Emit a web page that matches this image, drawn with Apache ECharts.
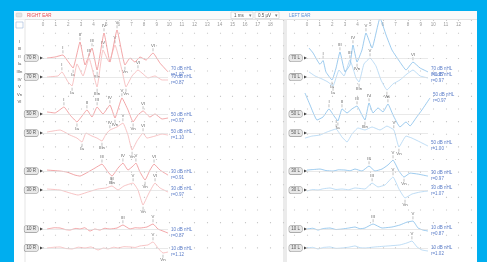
<!DOCTYPE html>
<html>
<head>
<meta charset="utf-8">
<script src="https://cdn.jsdelivr.net/npm/echarts@6/dist/echarts.min.js"></script>
<style>
  html, body { margin: 0; padding: 0; background: #00aeef; overflow: hidden; }
  #panel { position: absolute; left: 14px; top: 11px; width: 463px; height: 251px; background: #fff; }
  #main { position: absolute; left: 0; top: 0; width: 487px; height: 262px; }
</style>
</head>
<body>
<div id="panel"></div>
<div id="main"></div>
<script>
// trace baselines, in grid divisions (0 = top of plot)
var levels = [-3.01, -4.51, -7.44, -8.95, -11.96, -13.46, -16.55, -18.05];

// intensity boxes and end labels
var rightBoxes = ['70 R', '70 R', '50 R', '50 R', '30 R', '30 R', '10 R', '10 R'];
var leftBoxes = ['70 L', '70 L', '50 L', '50 L', '30 L', '30 L', '10 L', '10 L'];
var dbText = ['70 dB nHL', '70 dB nHL', '50 dB nHL', '50 dB nHL', '30 dB nHL', '30 dB nHL', '10 dB nHL', '10 dB nHL'];
var rightStat = ['r=1.07', 'r=0.87', 'r=0.97', 'r=1.10', 'r=0.91', 'r=0.97', 'r=0.87', 'r=1.12'];
var leftStat = ['r=1.07', 'r=0.97', 'r=0.97', 'r=1.00', 'r=0.97', 'r=1.07', 'r=0.87', 'r=1.02'];

// peak name column at left
var markerNames = ['I', 'III', 'II', 'Ia', 'IIIn', 'IV', 'V', 'Vn', 'VI'];

// waveforms: [ms, divisions above baseline]
var rightTraces = [
  [[0.32,0],[0.95,0.08],[1.58,0.24],[1.9,-0.16],[2.38,-0.79],[2.93,1.27],[3.33,-0.55],[3.88,0.79],[4.28,-0.95],[4.83,1.98],[5.3,-0.32],[5.86,2.22],[6.49,-0.55],[6.89,0],[7.28,-0.32],[7.68,0.08],[8.16,-0.16],[8.71,0.4],[9.26,-0.4],[9.9,-1.1]],
  [[0.32,0],[1.19,0.08],[1.5,0.4],[1.98,-0.4],[2.3,-0.71],[2.69,1.03],[3.17,0.08],[3.64,1.5],[4.28,-0.79],[4.75,2.14],[5.23,1.19],[5.7,2.53],[6.25,0.55],[6.57,-0.79],[7.05,0.08],[7.52,0.55],[7.92,0.24],[8.31,-0.08],[8.87,0.08],[9.42,-0.24],[9.9,-0.24]],
  [[0.32,0.16],[0.95,0.08],[1.66,0.55],[2.14,-0.08],[2.69,-0.63],[3.09,-0.16],[3.48,0.32],[3.88,-0.24],[4.28,0.55],[4.75,0],[5.3,0.71],[5.7,-0.32],[6.25,1.27],[6.73,0.32],[7.13,-0.63],[7.52,-0.08],[7.92,0.24],[8.47,-0.24],[8.87,0],[9.42,-0.4],[9.9,-0.32]],
  [[0.32,0.08],[1.35,0.24],[2.14,-0.16],[2.69,-0.4],[3.09,-0.71],[3.4,0],[3.88,-0.24],[4.28,-0.4],[4.67,-0.63],[4.99,-0.08],[5.3,0.24],[5.86,0.48],[6.33,0.79],[6.73,-0.16],[7.05,-1.35],[7.44,-0.63],[7.92,0],[8.23,-0.4],[8.87,-0.24],[9.42,-0.08],[9.9,-0.16]],
  [[0.32,0.08],[1.35,0],[1.9,-0.08],[2.53,-0.32],[2.93,-0.4],[3.56,-0.08],[4.12,0.24],[4.67,0.55],[5.15,-0.08],[5.46,-0.4],[5.94,0.24],[6.33,0.63],[6.73,0.08],[7.13,0.4],[7.36,0.63],[7.68,-0.08],[8.08,-0.71],[8.47,0.08],[8.79,0.55],[9.26,0.08],[9.9,-0.32]],
  [[0.32,0.08],[1.35,0],[2.14,-0.24],[2.77,-0.4],[3.56,-0.16],[4.36,0.08],[4.99,0.16],[5.46,0.32],[5.94,0],[6.41,0.32],[7.13,0.55],[7.52,0],[7.92,-1.19],[8.31,-0.4],[8.87,0.55],[9.26,0.16],[9.9,-0.16]],
  [[0.32,0],[0.9,0.1],[1.35,0.08],[1.8,-0.05],[2.14,-0.08],[2.6,0.05],[2.93,0],[3.3,0.1],[3.72,-0.16],[4.1,0],[4.51,-0.08],[4.9,0.06],[5.3,0],[5.86,0.08],[6.33,0.32],[6.89,0],[7.3,0.1],[7.68,0.08],[8.23,0.16],[8.71,0.4],[9.1,0],[9.5,-0.16],[9.9,-0.32]],
  [[0.32,0],[0.9,0.06],[1.35,0.08],[1.8,-0.04],[2.3,-0.08],[2.8,0.06],[3.33,0],[3.8,0.08],[4.36,-0.16],[4.8,0],[5.15,-0.08],[5.6,0.06],[5.94,0],[6.4,0.1],[6.89,0.08],[7.3,0.04],[7.68,0.16],[8.31,0.24],[8.71,0.48],[9.1,0],[9.5,-0.4],[9.9,-0.32]]
];

var leftTraces = [
  [[0.16,0.79],[0.48,0.4],[1.03,-0.5],[1.27,-0.2],[1.5,-1.1],[1.98,-1.74],[2.3,-0.79],[2.61,0.48],[3.01,-1.1],[3.4,-0.55],[3.64,1.03],[3.96,-0.32],[4.35,0.63],[4.67,1.98],[5.15,0.79],[5.78,3.17],[6.26,1.82],[6.73,0.63],[7.36,-0.32],[7.84,-0.95],[8.39,-0.32],[8.95,-0.79],[9.58,-1.1]],
  [[0.16,0.4],[0.63,0.08],[1.19,-0.16],[1.66,-0.4],[2.06,-0.71],[2.53,0.55],[2.93,0.08],[3.4,1.35],[3.88,-0.08],[4.12,-0.4],[4.51,1.03],[4.99,1.5],[5.46,0.87],[5.86,-0.24],[6.33,-1.03],[6.81,-0.55],[7.36,-0.24],[7.92,0.24],[8.39,0.55],[8.95,0.08],[9.58,-0.08]],
  [[-0.16,1.66],[0.24,0.71],[0.79,-0.48],[1.27,-0.24],[1.74,0.4],[2.14,-0.16],[2.45,-0.55],[2.77,0.4],[3.17,0.08],[3.56,0.4],[3.96,0.63],[4.35,-0.08],[4.59,-0.48],[4.91,0.87],[5.23,0.08],[5.62,0.48],[6.02,0.16],[6.41,0.79],[6.81,-0.08],[7.36,-1.03],[7.84,-0.63],[8.16,-0.95],[8.63,-0.32],[9.1,0.32],[9.74,1.27]],
  [[-0.16,-0.4],[0.4,-0.24],[1.03,-0.16],[1.58,0.08],[2.3,0.32],[2.77,-0.32],[3.17,-0.71],[3.56,-0.08],[4.04,0.4],[4.59,0.24],[5.15,0.48],[5.78,0.24],[6.33,0.55],[6.88,0.24],[7.28,-1.11],[7.84,-0.24],[8.31,-0.4],[8.95,-0.71],[9.58,-1.03]],
  [[0,0.08],[0.5,0.12],[1.03,0.16],[1.5,0.04],[2.06,0],[2.5,0.1],[3.01,0.08],[3.4,0.02],[3.8,0.16],[4.35,0],[4.91,0.4],[5.38,0],[5.94,0.16],[6.41,0.48],[6.81,0.87],[7.28,0],[7.68,-0.48],[8.16,-0.16],[8.79,-0.24],[9.58,-0.4]],
  [[0,-0.08],[0.45,0.04],[0.87,0],[1.3,0.1],[1.82,0.16],[2.3,0.04],[2.77,0.08],[3.3,0.02],[3.8,0.16],[4.59,0.08],[5.15,0.55],[5.62,0.24],[6.18,0.4],[6.81,1.03],[7.28,0.08],[7.76,-0.63],[8.31,-0.32],[8.95,-0.16],[9.58,-0.08]],
  [[0,0],[0.45,0.06],[0.87,-0.08],[1.3,0.04],[1.82,0.08],[2.3,-0.04],[2.77,0],[3.3,0.08],[3.8,0.16],[4.2,0.02],[4.59,0.08],[5.23,0.4],[5.94,0.08],[6.73,0.16],[7.36,0.32],[7.92,0.55],[8.39,0.63],[8.79,0.08],[9.18,-0.08],[9.58,-0.16]],
  [[0,0],[0.45,0.05],[0.87,-0.08],[1.3,0.04],[1.82,0.08],[2.3,-0.03],[2.77,0],[3.3,0.06],[3.8,0.16],[4.2,0.02],[4.59,0],[5.38,0.08],[6.41,0.16],[7.36,0.24],[7.92,0.4],[8.31,0.55],[8.71,0.08],[9.1,-0.16],[9.58,-0.24]]
];

// peak marks: [trace, ms, name, below]
var rightPeaks = [
  [0,1.58,'I',0],[0,2.38,'Ia',1],[0,2.93,'II',0],[0,3.88,'III',0],[0,4.28,'IIIn',1],[0,4.83,'IV',0],[0,5.86,'V',0],[0,6.49,'Vn',1],[0,8.71,'VI',0],
  [1,1.5,'I',0],[1,2.3,'Ia',1],[1,3.64,'III',0],[1,4.28,'IIIn',1],[1,4.75,'IV',0],[1,5.7,'V',0],[1,6.57,'Vn',1],[1,7.52,'VI',0],
  [2,1.66,'I',0],[2,2.69,'Ia',1],[2,3.48,'II',0],[2,4.28,'III',0],[2,5.3,'IV',0],[2,5.7,'IVn',1],[2,6.25,'V',0],[2,7.13,'Vn',1],[2,7.92,'VI',0],
  [3,3.09,'Ia',1],[3,4.67,'IIIn',1],[3,5.3,'IV',0],[3,6.33,'V',0],[3,7.05,'Vn',1],[3,7.92,'VI',0],
  [4,4.67,'III',0],[4,5.46,'IIIn',1],[4,6.33,'IV',0],[4,7.36,'V',0],[4,8.08,'Vn',1],[4,8.79,'VI',0],
  [5,5.46,'III',0],[5,7.13,'V',0],[5,7.92,'Vn',1],[5,8.87,'VI',0],
  [6,6.33,'III',0],[6,8.71,'V',0],
  [7,8.71,'V',0],[7,9.5,'Vn',1]
];
var leftPeaks = [
  [0,1.27,'I',0],[0,1.98,'Ia',1],[0,2.61,'III',0],[0,3.64,'IV',0],[0,3.96,'IVn',1],[0,4.67,'V',0],[0,8.39,'VI',0],
  [1,2.06,'Ia',1],[1,3.4,'III',0],[1,4.12,'IIIn',1],[1,4.99,'V',0],[1,6.33,'Vn',1],
  [2,1.74,'I',0],[2,2.45,'Ia',1],[2,2.77,'II',0],[2,3.96,'III',0],[2,4.59,'IIIn',1],[2,4.91,'IV',0],[2,6.41,'V',0],
  [3,2.3,'I',0],[3,6.88,'V',0],[3,7.28,'Vn',1],
  [4,4.91,'III',0],[4,6.81,'V',0],[4,7.68,'Vn',1],
  [5,5.15,'III',0],[5,6.81,'V',0],[5,7.76,'Vn',1],
  [6,5.23,'III',0],[6,8.39,'V',0],
  [7,8.31,'V',0]
];

var FONT = 'Liberation Sans';

function interp(trace, t) {
  for (var i = 1; i < trace.length; i++) {
    if (trace[i][0] >= t) {
      var a = trace[i - 1], b = trace[i];
      var k = (t - a[0]) / (b[0] - a[0]);
      return a[1] + k * (b[1] - a[1]);
    }
  }
  return trace[trace.length - 1][1];
}

function traceSeries(traces, grid, colors, boxes, stats) {
  return traces.map(function (tr, i) {
    var lvl = levels[i];
    var last = tr[tr.length - 1];
    return {
      type: 'line',
      xAxisIndex: grid, yAxisIndex: grid,
      data: tr.map(function (p) { return [p[0], p[1] + lvl]; }),
      showSymbol: false,
      smooth: 0.12,
      silent: true,
      lineStyle: { color: colors[i % 2], width: 0.7 },
      endLabel: {
        show: true,
        distance: 3,
        formatter: dbText[i] + '\n' + stats[i],
        color: '#5a7cc8',
        fontSize: 4.5,
        lineHeight: 6,
        fontFamily: FONT,
        align: 'left'
      },
      markLine: {
        silent: true,
        symbol: ['none', 'none'],
        label: { show: false },
        lineStyle: { color: '#dadada', width: 0.6, type: 'solid' },
        data: [[{ coord: [0, lvl] }, { coord: [last[0], lvl] }]]
      },
      markPoint: {
        silent: true,
        symbol: 'triangle',
        symbolRotate: -90,
        symbolSize: 3,
        symbolOffset: [-1.5, 0],
        itemStyle: { color: '#444' },
        label: {
          show: true,
          position: 'left',
          distance: 2,
          formatter: boxes[i],
          fontSize: 4.5,
          fontFamily: FONT,
          color: '#555',
          backgroundColor: '#e8e8e8',
          borderColor: '#999',
          borderWidth: 0.6,
          borderRadius: 2,
          padding: [1, 2, 0.5, 2]
        },
        data: [{ coord: [0, lvl] }]
      }
    };
  });
}

function peakSeries(peaks, traces, grid) {
  return {
    type: 'scatter',
    xAxisIndex: grid, yAxisIndex: grid,
    silent: true,
    symbol: 'rect',
    symbolSize: [0.5, 3],
    itemStyle: { color: '#666' },
    label: { show: true, fontSize: 4.3, fontFamily: FONT, color: '#333', distance: 0.5 },
    data: peaks.map(function (p) {
      var below = p[3] === 1;
      return {
        value: [p[1], interp(traces[p[0]], p[1]) + levels[p[0]]],
        name: p[2],
        symbolOffset: [0, below ? 3.2 : -3.2],
        label: { position: below ? 'bottom' : 'top', formatter: p[2] }
      };
    })
  };
}

var DIV = 12.63;

function xAxisFor(grid, min, max) {
  return {
    gridIndex: grid, type: 'value', position: 'top',
    min: min, max: max, interval: 1,
    axisLine: { show: false }, axisTick: { show: false },
    axisLabel: {
      inside: true, margin: 2, fontSize: 4.5, color: '#999', fontFamily: FONT,
      showMinLabel: min === 0, showMaxLabel: false
    },
    splitLine: { show: true, lineStyle: { color: '#c8c8c8', width: 1.1, type: [1.1, DIV - 1.1] } }
  };
}
function yAxisFor(grid) {
  return {
    gridIndex: grid, type: 'value', min: -19, max: 0, interval: 1,
    axisLine: { show: false }, axisTick: { show: false }, axisLabel: { show: false },
    splitLine: { show: false }
  };
}

var graphics = [
  // header strip
  { type: 'rect', shape: { x: 14, y: 11, width: 463, height: 8.5 }, style: { fill: '#fafafa' } },
  { type: 'line', shape: { x1: 14, y1: 19.5, x2: 477, y2: 19.5 }, style: { stroke: '#dcdcdc', lineWidth: 0.8 } },
  { type: 'rect', shape: { x: 16, y: 13, width: 6, height: 4, r: 1 }, style: { fill: '#e4e4e4', stroke: '#bbb', lineWidth: 0.4 } },
  { type: 'text', x: 27, y: 15.3, style: { text: 'RIGHT EAR', fill: '#e8474e', fontSize: 4.5, fontFamily: FONT, verticalAlign: 'middle' } },
  { type: 'rect', shape: { x: 231, y: 12, width: 22, height: 6.5 }, style: { fill: '#fff', stroke: '#cfcfcf', lineWidth: 0.6 } },
  { type: 'text', x: 234, y: 15.3, style: { text: '1 ms', fill: '#555', fontSize: 4.5, fontFamily: FONT, verticalAlign: 'middle' } },
  { type: 'text', x: 249, y: 15.3, style: { text: '▾', fill: '#777', fontSize: 4.5, fontFamily: FONT, verticalAlign: 'middle' } },
  { type: 'rect', shape: { x: 255, y: 12, width: 24, height: 6.5 }, style: { fill: '#fff', stroke: '#cfcfcf', lineWidth: 0.6 } },
  { type: 'text', x: 258, y: 15.3, style: { text: '0.5 µV', fill: '#555', fontSize: 4.5, fontFamily: FONT, verticalAlign: 'middle' } },
  { type: 'text', x: 275, y: 15.3, style: { text: '▾', fill: '#777', fontSize: 4.5, fontFamily: FONT, verticalAlign: 'middle' } },
  { type: 'text', x: 289, y: 15.3, style: { text: 'LEFT EAR', fill: '#5b8fd6', fontSize: 4.5, fontFamily: FONT, verticalAlign: 'middle' } },
  // left name column
  { type: 'rect', shape: { x: 14, y: 19.5, width: 11, height: 243 }, style: { fill: '#fff' } },
  { type: 'line', shape: { x1: 25, y1: 19.5, x2: 25, y2: 262 }, style: { stroke: '#dedede', lineWidth: 0.8 } },
  { type: 'rect', shape: { x: 16, y: 22, width: 7, height: 6 }, style: { fill: '#fff', stroke: '#9fb6d8', lineWidth: 0.6 } },
  // ear separator
  { type: 'rect', shape: { x: 283, y: 19.5, width: 4, height: 243 }, style: { fill: '#ebebeb' } }
];
markerNames.forEach(function (n, i) {
  graphics.push({ type: 'text', x: 19.5, y: 41.5 + i * 7.6,
    style: { text: n, fill: '#555', fontSize: 4.2, fontFamily: FONT, align: 'center', verticalAlign: 'middle' } });
});

var chart = echarts.init(document.getElementById('main'), null, { renderer: 'canvas' });

var option = {
  animation: false,
  backgroundColor: 'transparent',
  grid: [
    { left: 43, top: 20, width: 19 * DIV, height: 19 * DIV },
    { left: 307 - DIV, top: 20, width: 14 * DIV, height: 19 * DIV }
  ],
  xAxis: [xAxisFor(0, 0, 19), xAxisFor(1, -1, 13)],
  yAxis: [yAxisFor(0), yAxisFor(1)],
  graphic: { elements: graphics },
  series: []
    .concat(traceSeries(rightTraces, 0, ['#ec7f82', '#f4aaac'], rightBoxes, rightStat))
    .concat(traceSeries(leftTraces, 1, ['#72b5e6', '#a3cff0'], leftBoxes, leftStat))
    .concat([peakSeries(rightPeaks, rightTraces, 0), peakSeries(leftPeaks, leftTraces, 1)])
};

chart.setOption(option);
</script>
</body>
</html>
